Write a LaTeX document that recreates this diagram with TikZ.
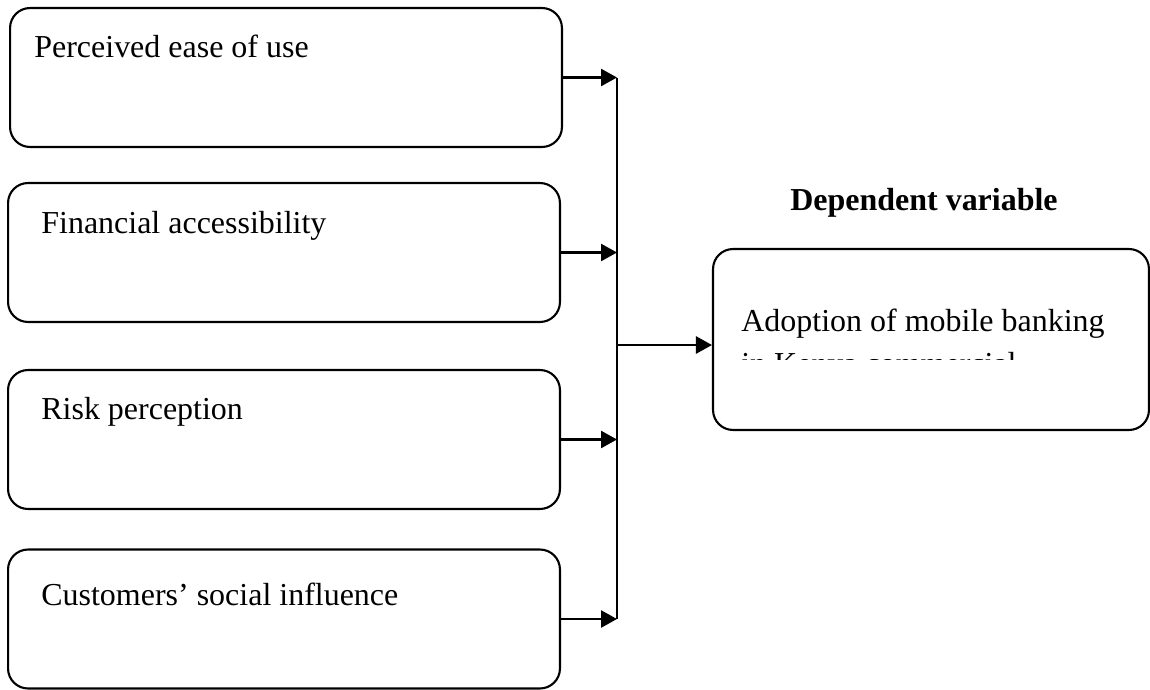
\documentclass[tikz,border=0pt]{standalone}
\usepackage{fontspec}
\setmainfont{Liberation Serif}
\usetikzlibrary{arrows.meta,positioning}

\begin{document}
\begin{tikzpicture}[
  x=0.02cm, y=-0.02cm,
  every node/.style={font=\fontsize{18.2}{22}\selectfont},
  ivbox/.style={draw, line width=1.2pt, rounded corners=0.4cm,
    minimum width=11.04cm, minimum height=2.78cm, inner sep=0pt},
  ivtext/.style={anchor=base west, inner sep=0pt},
  feed/.style={line width=1.5pt, -{Triangle[length=0.32cm,width=0.34cm]}},
]

% page frame (pixels of the reference, y down)
\useasboundingbox (0,0) rectangle (1150,690);

% ============================================================
% INDEPENDENT VARIABLES
% name, centre x, centre y, text shift, label
% ============================================================
\foreach \nm/\cx/\cy/\tx/\ty/\lbl in {
  pe/286/77.5/25/51/Perceived ease of use,
  fa/284/252.5/34/52/Financial accessibility,
  rp/284/439.5/34/51/Risk perception,
  cs/284/619/34/57/Customers' social influence}{
  \node[ivbox] (\nm) at (\cx,\cy) {};
  \node[ivtext] (\nm-txt) at ([shift={(\tx,\ty)}]\nm.north west) {\lbl};
}

% ============================================================
% DEPENDENT VARIABLE
% ============================================================
\node[anchor=base, font=\fontsize{18.2}{22}\selectfont\bfseries]
  (dvhead) at (924,210) {Dependent variable};
\node[ivbox, minimum width=8.72cm, minimum height=3.62cm]
  (dv) at (931,339.5) {};
\node[ivtext] (dv-txt) at ([shift={(29,84)}]dv.north west)
  {Adoption of mobile banking};
% second line is cut off in the box, only the tops show
\begin{scope}
  \clip (713,342) rectangle (1149,359);
  \node[ivtext] (dv-txt2) at ([shift={(29,127)}]dv.north west)
    {in Kenya commercial};
\end{scope}

% ============================================================
% CONNECTORS
% ============================================================
\coordinate (busX) at (617,0);
\coordinate (busMid) at (617,345);
\foreach \nm in {pe,fa,rp,cs}{
  \draw[feed] (\nm.east) -- (\nm.east -| busX);
}
\draw[line width=1.5pt] (pe.east -| busX) -- (cs.east -| busX);
\draw[feed] (busMid) -- (busMid -| dv.west);

\end{tikzpicture}
\end{document}
